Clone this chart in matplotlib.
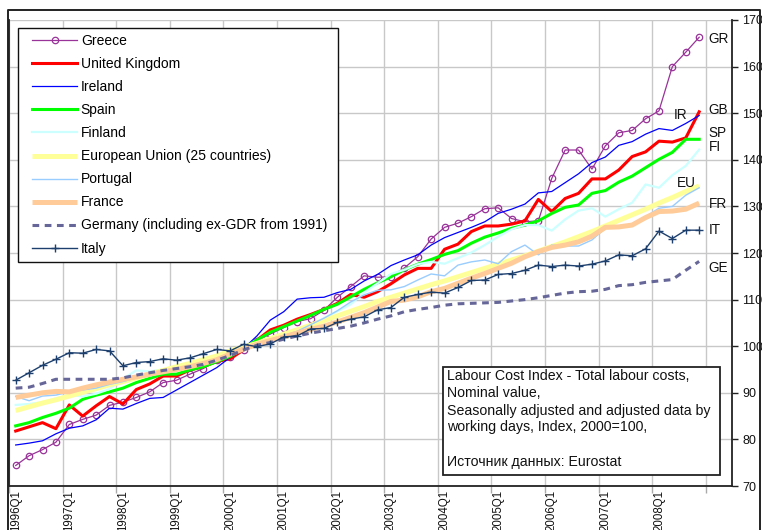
import matplotlib
matplotlib.use('Agg')
import matplotlib.pyplot as plt
import numpy as np
from matplotlib.lines import Line2D
from matplotlib.patches import Rectangle
from matplotlib.legend_handler import HandlerLine2D

plt.rcParams['font.family'] = ['Liberation Sans', 'DejaVu Sans']

quarters = [f"{y}Q{q}" for y in range(1996, 2009) for q in range(1, 5)]

greece = [74.4, 76.5, 77.8, 79.4, 83.2, 84.3, 85.2, 87.3, 88.0, 89.0, 90.2, 92.2, 92.7, 94.0, 95.2, 97.0,
          97.6, 99.2, 101.2, 102.6, 104.0, 105.3, 105.9, 107.7, 110.5, 112.8, 115.1, 114.8, 114.9, 116.8,
          119.2, 123.0, 125.5, 126.4, 127.8, 129.5, 129.7, 127.4, 126.7, 126.9, 136.0, 142.1, 142.1, 138.0,
          143.0, 145.8, 146.3, 148.8, 150.5, 160.0, 163.1, 166.3]
uk = [81.8, 82.7, 83.6, 82.3, 87.4, 85.0, 87.2, 89.2, 87.6, 90.7, 91.9, 93.6, 93.6, 94.9, 95.6, 96.7,
      97.3, 99.2, 101.3, 103.5, 104.5, 105.8, 106.8, 107.9, 109.2, 111.1, 110.5, 111.7, 113.4, 115.3,
      116.7, 116.7, 120.8, 121.9, 124.6, 125.8, 125.8, 126.2, 126.9, 131.5, 128.9, 131.7, 132.8, 135.9,
      135.9, 137.8, 140.7, 141.7, 144.0, 143.8, 144.7, 150.3]
ireland = [78.8, 79.2, 79.7, 81.2, 82.4, 82.9, 84.2, 86.7, 86.5, 87.7, 88.8, 89.0, 90.6, 92.2, 93.8, 95.4,
           97.6, 99.5, 102.2, 105.6, 107.4, 110.1, 110.4, 110.5, 111.5, 112.2, 114.0, 115.4, 117.3, 118.5,
           119.6, 121.7, 123.3, 124.4, 125.5, 126.7, 128.5, 129.4, 130.5, 132.9, 133.2, 135.1, 137.0, 139.4,
           140.6, 143.1, 143.9, 145.5, 146.7, 146.3, 147.8, 149.5]
spain = [82.9, 83.6, 84.7, 85.6, 86.7, 88.6, 89.5, 90.2, 91.0, 92.2, 93.1, 94.0, 94.0, 94.9, 95.6, 96.7,
         97.8, 99.6, 101.3, 103.0, 104.2, 105.4, 106.6, 107.9, 109.0, 110.6, 112.2, 113.6, 114.9, 116.4,
         117.6, 118.6, 119.7, 120.5, 122.1, 123.4, 124.3, 125.3, 126.0, 126.9, 128.5, 129.8, 130.3, 132.8,
         133.4, 135.2, 136.5, 138.3, 140.1, 141.6, 144.4, 144.4]
finland = [87.4, 87.6, 88.0, 88.8, 89.6, 89.2, 89.8, 90.8, 93.0, 94.8, 94.6, 95.0, 95.4, 96.0, 96.8, 97.6,
           98.6, 99.8, 100.6, 101.0, 102.5, 103.5, 104.5, 106.0, 107.5, 109.0, 111.5, 113.5, 115.5, 116.4,
           117.6, 118.1, 117.7, 118.9, 120.1, 121.7, 123.5, 125.1, 126.0, 126.0, 124.8, 127.2, 129.1, 129.6,
           127.8, 129.4, 130.8, 134.7, 134.0, 136.7, 138.7, 142.2]
eu25 = [86.2, 87.0, 87.8, 88.5, 89.3, 90.1, 90.9, 91.7, 92.4, 93.2, 94.0, 94.8, 95.6, 96.3, 97.1, 97.9,
        99.0, 99.8, 100.6, 101.6, 102.6, 103.5, 104.5, 105.5, 106.5, 107.5, 108.5, 109.6, 110.5, 111.4,
        112.3, 113.2, 114.0, 114.9, 115.8, 116.7, 117.6, 118.5, 119.4, 120.4, 121.4, 122.4, 123.5, 124.6,
        125.8, 127.0, 128.2, 129.4, 130.7, 131.9, 133.2, 134.4]
portugal = [89.2, 88.3, 89.3, 89.5, 90.2, 90.6, 91.0, 91.8, 92.4, 93.2, 93.6, 94.4, 95.0, 95.6, 96.2, 97.2,
            98.2, 99.4, 100.4, 101.5, 102.2, 103.2, 104.6, 106.0, 107.6, 109.5, 111.0, 112.0, 112.1, 112.8,
            114.2, 115.5, 115.1, 117.4, 118.1, 118.5, 117.7, 120.3, 121.7, 119.6, 121.7, 121.5, 121.5, 122.8,
            125.3, 125.5, 126.2, 127.8, 129.6, 130.0, 132.4, 134.0]
france = [89.0, 89.5, 90.0, 90.3, 90.2, 91.0, 91.7, 92.3, 92.9, 93.4, 94.0, 94.5, 95.0, 95.6, 96.3, 97.1,
          98.3, 99.4, 100.4, 101.2, 102.0, 102.8, 103.6, 104.3, 105.2, 106.2, 107.2, 108.4, 109.6, 109.9,
          110.6, 111.7, 112.4, 113.5, 114.6, 115.6, 116.7, 117.8, 119.2, 120.3, 121.2, 121.7, 122.4, 123.6,
          125.5, 125.6, 126.0, 127.6, 128.9, 129.0, 129.4, 130.7]
germany = [91.0, 91.2, 92.0, 92.9, 92.9, 92.9, 92.9, 92.9, 93.2, 93.8, 94.3, 94.8, 95.2, 95.6, 96.1, 97.0,
           98.0, 99.2, 100.2, 100.8, 101.5, 102.2, 102.8, 103.3, 103.8, 104.3, 105.0, 105.8, 106.5, 107.4,
           107.9, 108.3, 108.8, 109.1, 109.2, 109.3, 109.4, 109.7, 110.0, 110.4, 110.9, 111.4, 111.7, 111.8,
           112.2, 113.0, 113.2, 113.7, 114.0, 114.3, 116.3, 118.2]
italy = [92.7, 94.3, 95.9, 97.2, 98.6, 98.5, 99.3, 99.0, 95.8, 96.5, 96.7, 97.3, 97.0, 97.5, 98.4, 99.3,
         99.0, 100.4, 99.9, 100.5, 102.0, 102.2, 103.7, 103.8, 105.1, 105.8, 106.3, 107.8, 108.3, 110.5,
         111.1, 111.6, 111.4, 112.6, 114.1, 114.2, 115.4, 115.6, 116.3, 117.4, 117.1, 117.4, 117.2, 117.6,
         118.3, 119.6, 119.4, 120.9, 124.7, 123.1, 124.9, 124.9]

series_names = ["Greece", "United Kingdom", "Ireland", "Spain", "Finland",
                "European Union (25 countries)", "Portugal", "France",
                "Germany (including ex-GDR from 1991)", "Italy"]
series_values = [greece, uk, ireland, spain, finland, eu25, portugal, france, germany, italy]
end_labels = ["GR", "GB", "IR", "SP", "FI", "EU", "FR", "IT", "GE"]

styles = [
    dict(color='#993399', lw=0.9, marker='o', ms=4.6, mfc='none', mec='#993399', mew=0.9),
    dict(color='#ff0000', lw=2.2),
    dict(color='#0000ff', lw=0.9),
    dict(color='#00ff00', lw=2.2),
    dict(color='#ccffff', lw=1.6),
    dict(color='#ffff99', lw=3.6, solid_capstyle='butt'),
    dict(color='#99ccff', lw=1.0),
    dict(color='#ffcc99', lw=3.6, solid_capstyle='butt'),
    dict(color='#666699', lw=2.2, dashes=(2.2, 1.8), dash_capstyle='butt'),
    dict(color='#1c3f6e', lw=1.0, marker='+', ms=6, mew=1.0),
]

W, H = 762, 530
fig = plt.figure(figsize=(W / 100, H / 100), dpi=100)
ax = fig.add_axes([9 / W, 1 - 486 / H, (732 - 9) / W, (486 - 20) / H])

x = np.arange(len(quarters))
handles = []
for k, (name, vals, st) in enumerate(zip(series_names, series_values, styles)):
    ln, = ax.plot(x, vals, label=name, zorder=3 + k, **st)
    handles.append(ln)

ax.set_xlim(-0.5, 53.45)
ax.set_ylim(70, 170)
ax.yaxis.tick_right()
ax.set_yticks(np.arange(70, 171, 10))
ax.tick_params(axis='y', direction='out', length=4, width=1, color='#222222',
               labelsize=9, pad=3.5, labelcolor='#111111')
ax.grid(axis='y', color='#c8c8c8', lw=1, zorder=0)

ax.set_xticks(x[::4])
ax.set_xticklabels(quarters[::4], rotation=90, fontsize=8.3, va='top', color='#111111')
ax.tick_params(axis='x', which='major', length=0, pad=3)
ax.set_xticks(np.arange(-0.5, 52, 4), minor=True)
ax.tick_params(axis='x', which='minor', direction='out', length=5, width=1, color='#aaaaaa')
ax.grid(axis='x', which='minor', color='#c8c8c8', lw=1, zorder=0)
ax.set_axisbelow(True)

for s in ['left', 'bottom', 'right']:
    ax.spines[s].set_color('#222222')
    ax.spines[s].set_linewidth(1.3)
ax.spines['top'].set_visible(False)

# outer chart border
fig.add_artist(Line2D([8 / W, 8 / W, 760 / W, 760 / W], [-0.02, 1 - 10 / H, 1 - 10 / H, -0.02],
                      transform=fig.transFigure, color='#222222', lw=1.4))

# end labels
lab_pos = {"GR": (51.7, 165.9), "GB": (51.7, 150.7), "IR": (49.1, 149.6), "SP": (51.7, 145.8),
           "FI": (51.7, 142.8), "EU": (49.3, 135.1), "FR": (51.7, 130.5), "IT": (51.7, 124.9),
           "GE": (51.7, 116.8)}
for lab in end_labels:
    px, py = lab_pos[lab]
    ax.text(px, py, lab, fontsize=9.8, va='center', ha='left', color='#111111', clip_on=False, zorder=20)

fs = 10.0
leg = ax.legend(handles=handles, loc='upper left',
                bbox_to_anchor=(18 / W, 1 - 28 / H, (338 - 18) / W, 0.0),
                bbox_transform=fig.transFigure, mode='expand', borderaxespad=0,
                fontsize=fs, labelspacing=0.65, handlelength=3.8, handletextpad=0.27,
                borderpad=0.45, numpoints=1, fancybox=False, framealpha=1,
                handler_map={Line2D: HandlerLine2D(xpad=0.56)})
leg.get_frame().set_edgecolor('#111111')
leg.get_frame().set_linewidth(1.0)
leg.set_zorder(30)

# annotation box
fig.add_artist(Rectangle((443 / W, 1 - 475 / H), (720 - 443) / W, (475 - 367) / H,
                         transform=fig.transFigure, facecolor='white', edgecolor='#222222',
                         lw=1.3, zorder=40))
note_lines = ["Labour Cost Index - Total labour costs,", "Nominal value,",
              "Seasonally adjusted and adjusted data by", "working days, Index, 2000=100,",
              "Источник данных: Eurostat"]
note_y = [375.7, 393.3, 410.7, 427.3, 461.7]
for t, yy in zip(note_lines, note_y):
    fig.text(447 / W, 1 - yy / H, t, fontsize=10.2, va='center', ha='left', color='#111111', zorder=41)

fig.savefig('out.png', dpi=100)
